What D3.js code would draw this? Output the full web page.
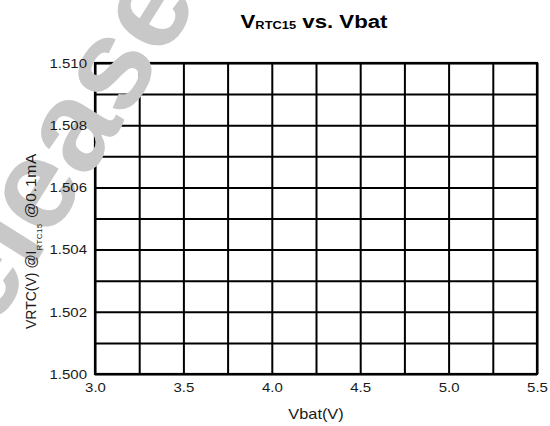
<!DOCTYPE html>
<html>
<head>
<meta charset="utf-8">
<script src="https://cdn.jsdelivr.net/npm/d3@7"></script>
<style>
  html, body { margin: 0; padding: 0; background: #fff; }
  svg { display: block; font-family: "Liberation Sans", Arial, sans-serif; }
</style>
</head>
<body>
<svg id="chart" width="550" height="426"></svg>
<script>
// ---- data ----
const titleMain = "V";
const titleSub = "RTC15";
const titleRest = " vs. Vbat";
const xLabel = "Vbat(V)";
const yLabelParts = ["VRTC(V) @I", "RTC15", " @0.1mA"];
const xDomain = [3.0, 5.5];
const yDomain = [1.500, 1.510];
const xGridValues = [3.0, 3.25, 3.5, 3.75, 4.0, 4.25, 4.5, 4.75, 5.0, 5.25, 5.5];
const xTickValues = [3.0, 3.5, 4.0, 4.5, 5.0, 5.5];
const xTickLabels = ["3.0", "3.5", "4.0", "4.5", "5.0", "5.5"];
const yGridValues = [1.500, 1.501, 1.502, 1.503, 1.504, 1.505, 1.506, 1.507, 1.508, 1.509, 1.510];
const yTickValues = [1.500, 1.502, 1.504, 1.506, 1.508, 1.510];
const yTickLabels = ["1.500", "1.502", "1.504", "1.506", "1.508", "1.510"];
const watermarkText = "Release";

// ---- layout ----
const plotLeft = 95, plotRight = 537, plotTop = 63, plotBottom = 374;
const svg = d3.select("#chart");

const x = d3.scaleLinear().domain(xDomain).range([plotLeft, plotRight]);
const y = d3.scaleLinear().domain(yDomain).range([plotBottom, plotTop]);

// grid
svg.append("g")
  .attr("transform", `translate(0,${plotBottom})`)
  .call(d3.axisBottom(x).tickValues(xGridValues).tickSize(-(plotBottom - plotTop)).tickFormat(""))
  .call(g => g.select(".domain").remove())
  .call(g => g.selectAll("line").attr("stroke", "#000").attr("stroke-width", 2));

svg.append("g")
  .attr("transform", `translate(${plotLeft},0)`)
  .call(d3.axisLeft(y).tickValues(yGridValues).tickSize(-(plotRight - plotLeft)).tickFormat(""))
  .call(g => g.select(".domain").remove())
  .call(g => g.selectAll("line").attr("stroke", "#000").attr("stroke-width", 2));

// frame
svg.append("rect")
  .attr("x", plotLeft).attr("y", plotTop)
  .attr("width", plotRight - plotLeft).attr("height", plotBottom - plotTop)
  .attr("fill", "none").attr("stroke", "#000").attr("stroke-width", 2.2);

// watermark (over the grid, under the texts)
svg.append("text")
  .attr("transform", "translate(200,0) rotate(-58)")
  .attr("text-anchor", "end")
  .attr("font-size", 128).attr("font-weight", "bold")
  .attr("fill", "#c8c8c8")
  .text(watermarkText);

// x tick labels
svg.append("g")
  .attr("transform", `translate(0,${plotBottom})`)
  .call(d3.axisBottom(x).tickValues(xTickValues).tickSize(0).tickPadding(0)
        .tickFormat((d, i) => xTickLabels[i]))
  .call(g => g.select(".domain").remove())
  .call(g => g.selectAll("text")
      .attr("y", 18.5).attr("dy", 0)
      .attr("font-size", 12.5)
      .attr("font-family", "Liberation Sans, Arial, sans-serif")
      .attr("fill", "#1a1a1a")
      .attr("transform", "scale(1.2,1)"));

// y tick labels
svg.append("g")
  .attr("transform", `translate(${plotLeft},0)`)
  .call(d3.axisLeft(y).tickValues(yTickValues).tickSize(0).tickPadding(0)
        .tickFormat((d, i) => yTickLabels[i]))
  .call(g => g.select(".domain").remove())
  .call(g => g.selectAll("text")
      .attr("x", -8 / 1.25).attr("dy", "0.36em")
      .attr("font-size", 12)
      .attr("font-family", "Liberation Sans, Arial, sans-serif")
      .attr("fill", "#1a1a1a")
      .attr("transform", "scale(1.25,1)"));

// title
const tg = svg.append("g").attr("transform", "translate(314,28) scale(1.17,1)");
const tt = tg.append("text").attr("text-anchor", "middle")
  .attr("font-weight", "bold").attr("font-size", 19).attr("fill", "#000");
tt.append("tspan").text(titleMain);
tt.append("tspan").attr("font-size", 11).attr("dy", 1).text(titleSub);
tt.append("tspan").attr("dy", -1).text(titleRest);

// x axis label
svg.append("g").attr("transform", "translate(316,419) scale(1.17,1)")
  .append("text").attr("text-anchor", "middle").attr("font-size", 14)
  .attr("fill", "#1a1a1a").text(xLabel);

// y axis label
const yl = svg.append("text")
  .attr("transform", "translate(36,329) rotate(-90)")
  .attr("text-anchor", "start").attr("font-size", 14).attr("fill", "#1a1a1a");
yl.append("tspan").text(yLabelParts[0]);
yl.append("tspan").attr("font-size", 8).attr("dy", 6).attr("letter-spacing", 0.4).text(yLabelParts[1]);
yl.append("tspan").attr("dy", -6).attr("font-size", 15.5).attr("letter-spacing", 0.8).text(yLabelParts[2]);
</script>
</body>
</html>
